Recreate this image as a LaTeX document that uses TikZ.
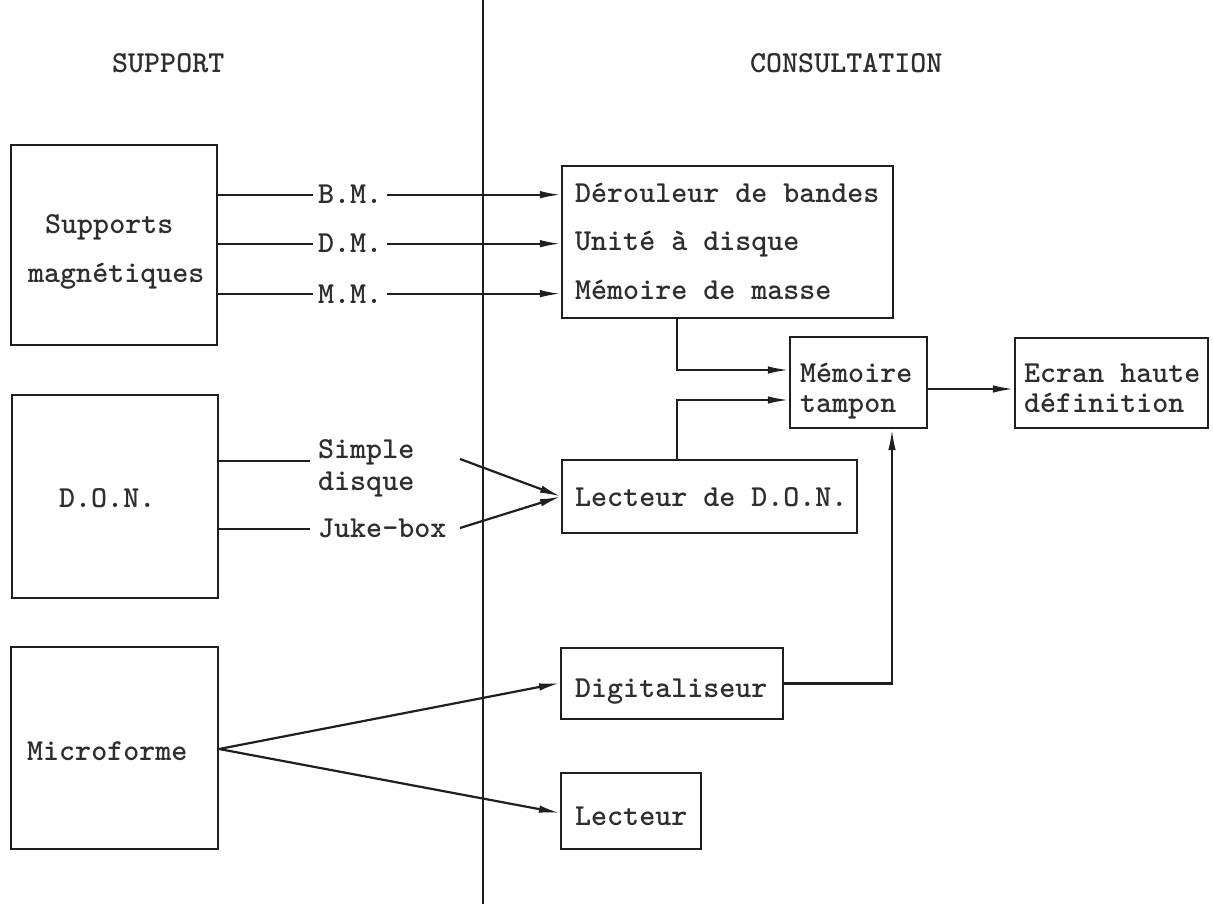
\documentclass[tikz,border=0pt]{standalone}
\usepackage{fontspec}
\newfontfamily\typewriter{lmmonolt10-bold.otf}
\usetikzlibrary{arrows.meta}
\begin{document}
\begin{tikzpicture}[x=1pt,y=-1pt,
  ink/.style={draw=black!88, line width=2.2pt},
  box/.style={ink, rectangle, inner sep=0pt},
  txt/.style={inner sep=0pt, font=\fontsize{30.5}{32}\selectfont\typewriter, text=black!82},
  lbl/.style={txt, inner xsep=5pt},
  wire/.style={ink},
  arr/.style={ink, -{Latex[length=21pt,width=7.5pt]}},
]
\useasboundingbox (0,0) rectangle (1213,904);

% column headings and the dividing rule
\node[txt, anchor=base west] (h-sup) at (112,73) {SUPPORT};
\node[txt, anchor=base west] (h-con) at (750,73) {CONSULTATION};
\coordinate (div-top) at (483,0);
\coordinate (div-bot) at (483,904);
\draw[wire, line width=1.8pt] (div-top) -- (div-bot);

% left column: media
\node[box, minimum width=206pt, minimum height=200pt] (sup) at (114,245) {};
\node[txt, anchor=base west] (sup-1) at (45,234) {Supports};
\node[txt, anchor=base west] (sup-2) at (28,282) {magnétiques};

\node[box, minimum width=206pt, minimum height=203pt] (don) at (115,496.5) {};
\node[txt, anchor=base west] (don-1) at (59,507) {D.O.N.};

\node[box, minimum width=207pt, minimum height=202pt] (mic) at (114.5,748) {};
\node[txt, anchor=base west] (mic-1) at (27,760) {Microforme};

% right column: devices
\node[box, minimum width=331pt, minimum height=152pt] (der) at (727.5,242) {};
\node[txt, anchor=base west] (der-1) at (575,203) {Dérouleur de bandes};
\node[txt, anchor=base west] (der-2) at (575,251) {Unité à disque};
\node[txt, anchor=base west] (der-3) at (575,299) {Mémoire de masse};

\node[box, minimum width=137pt, minimum height=91pt] (tam) at (858.5,382.5) {};
\node[txt, anchor=base west] (tam-1) at (800,382) {Mémoire};
\node[txt, anchor=base west] (tam-2) at (800,412) {tampon};

\node[box, minimum width=193pt, minimum height=90pt] (ecr) at (1111.5,383) {};
\node[txt, anchor=base west] (ecr-1) at (1024,382) {Ecran haute};
\node[txt, anchor=base west] (ecr-2) at (1024,412) {définition};

\node[box, minimum width=295pt, minimum height=73pt] (ldon) at (709.5,496.5) {};
\node[txt, anchor=base west] (ldon-1) at (575,506) {Lecteur de D.O.N.};

\node[box, minimum width=222pt, minimum height=71pt] (dig) at (672,683.5) {};
\node[txt, anchor=base west] (dig-1) at (575,697) {Digitaliseur};

\node[box, minimum width=140pt, minimum height=76pt] (lec) at (631,811) {};
\node[txt, anchor=base west] (lec-1) at (575,825) {Lecteur};

% magnetic media links
\node[lbl, anchor=base west] (bm) at (313,204) {B.M.};
\node[lbl, anchor=base west] (dm) at (313,253) {D.M.};
\node[lbl, anchor=base west] (mm) at (313,303) {M.M.};
\draw[wire] (sup.east |- bm.west) -- (bm.west);
\draw[arr] (bm.east) -- (der.west |- bm.east);
\draw[wire] (sup.east |- dm.west) -- (dm.west);
\draw[arr] (dm.east) -- (der.west |- dm.east);
\draw[wire] (sup.east |- mm.west) -- (mm.west);
\draw[arr] (mm.east) -- (der.west |- mm.east);

% optical disc links
\node[txt, anchor=base west] (sd-1) at (318,458) {Simple};
\node[txt, anchor=base west] (sd-2) at (318,490) {disque};
\node[txt, anchor=base west] (jb) at (318,537) {Juke-box};
\coordinate (sd-in) at (310,461);
\coordinate (jb-in) at (310,529);
\coordinate (sd-out) at (460,459);
\coordinate (jb-out) at (460,528);
\draw[wire] (don.east |- sd-in) -- (sd-in);
\draw[wire] (don.east |- jb-in) -- (jb-in);
\draw[arr] (sd-out) -- (ldon.west);
\draw[arr] (jb-out) -- (ldon.west);

% buffer memory feeds
\coordinate (tap) at (677,0);
\coordinate (tin-1) at (0,370);
\coordinate (tin-2) at (0,400);
\coordinate (tup) at (892,0);
\coordinate (tout) at (0,389);
\draw[arr] (der.south -| tap) |- (tam.west |- tin-1);
\draw[arr] (ldon.north -| tap) |- (tam.west |- tin-2);
\draw[arr] (dig.east) -| (tam.south -| tup);
\draw[arr] (tam.east |- tout) -- (ecr.west |- tout);

% microform links
\coordinate (m-out) at (0,749);
\coordinate (d-in) at (0,683);
\coordinate (l-in) at (0,813);
\draw[arr] (mic.east |- m-out) -- (dig.west |- d-in);
\draw[arr] (mic.east |- m-out) -- (lec.west |- l-in);
\end{tikzpicture}
\end{document}
